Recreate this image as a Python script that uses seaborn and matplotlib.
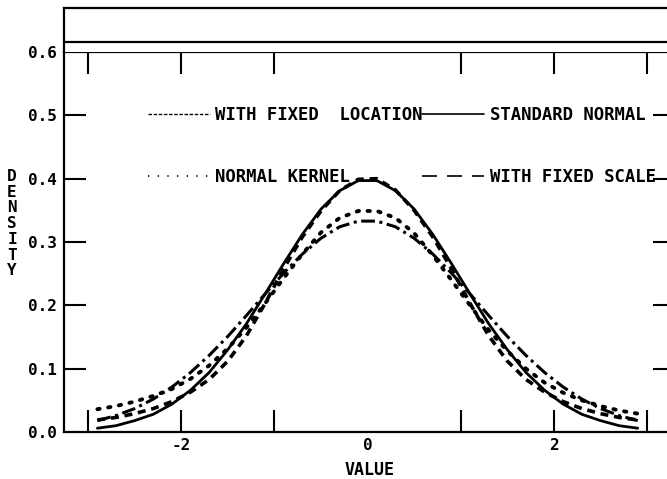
"""Density estimates compared with the standard normal (plotter-style figure)."""

import matplotlib

matplotlib.use("Agg")
import matplotlib.pyplot as plt
from matplotlib.lines import Line2D
import seaborn as sns

# ---- data ----------------------------------------------------------------- #
value = [-2.9, -2.7, -2.5, -2.3, -2.1, -1.9, -1.7, -1.5, -1.3, -1.1,
         -0.9, -0.7, -0.5, -0.3, -0.1, 0.1, 0.3, 0.5, 0.7, 0.9,
         1.1, 1.3, 1.5, 1.7, 1.9, 2.1, 2.3, 2.5, 2.7, 2.9]

standard_normal = [0.006, 0.010, 0.018, 0.028, 0.044, 0.066, 0.094, 0.130,
                   0.171, 0.218, 0.266, 0.312, 0.352, 0.381, 0.397, 0.397,
                   0.381, 0.352, 0.312, 0.266, 0.218, 0.171, 0.130, 0.094,
                   0.066, 0.044, 0.028, 0.018, 0.010, 0.006]

fixed_location = [0.018, 0.026, 0.037, 0.052, 0.071, 0.094, 0.121, 0.151,
                  0.184, 0.218, 0.251, 0.281, 0.306, 0.324, 0.333, 0.333,
                  0.324, 0.306, 0.281, 0.251, 0.218, 0.184, 0.151, 0.121,
                  0.094, 0.071, 0.052, 0.037, 0.026, 0.018]

normal_kernel = [0.036, 0.041, 0.048, 0.057, 0.068, 0.084, 0.105, 0.132,
                 0.165, 0.203, 0.243, 0.281, 0.315, 0.338, 0.349, 0.349,
                 0.338, 0.314, 0.279, 0.240, 0.200, 0.161, 0.128, 0.100,
                 0.078, 0.062, 0.050, 0.041, 0.034, 0.029]

fixed_scale = [0.019, 0.023, 0.029, 0.037, 0.048, 0.063, 0.083, 0.112,
               0.152, 0.203, 0.258, 0.308, 0.349, 0.381, 0.399, 0.400,
               0.382, 0.350, 0.308, 0.258, 0.203, 0.152, 0.112, 0.083,
               0.063, 0.048, 0.037, 0.029, 0.023, 0.019]

x_ticks = [-3, -2, -1, 0, 1, 2, 3]
x_tick_labels = ["", "-2", "", "0", "", "2", ""]
y_ticks = [0.0, 0.1, 0.2, 0.3, 0.4, 0.5, 0.6]

# ---- styling ---------------------------------------------------------------- #
sns.set_theme(style="white")
plt.rcParams["font.family"] = ["DejaVu Sans Mono", "DejaVu Sans"]
plt.rcParams["font.weight"] = "bold"
plt.rcParams["text.color"] = "black"
plt.rcParams["axes.labelcolor"] = "black"

FONT = dict(family="DejaVu Sans Mono", weight="bold", color="black")

fig = plt.figure(figsize=(6.67, 4.79), dpi=100)
# right spine sits just past the picture edge, as in the original scan
ax = fig.add_axes([0.0960, 0.0981, 0.916, 0.7933])
top = fig.add_axes([0.0960, 0.8914, 0.916, 0.0919])

curves = [
    (standard_normal, dict(linestyle="-", linewidth=2.0)),
    (fixed_scale, dict(linestyle=(0, (2.2, 1.6)), linewidth=2.6)),
    (fixed_location, dict(linestyle=(0, (4.5, 1.5, 1.0, 1.5)), linewidth=2.2)),
    (normal_kernel, dict(linestyle=(0, (0.6, 2.2)), linewidth=2.8,
                         dash_capstyle="round")),
]
for vals, style in curves:
    sns.lineplot(x=value, y=vals, ax=ax, color="black", **style)

ax.set_xlim(-3.258, 3.30)
ax.set_ylim(0, 0.6)
ax.set_xticks(x_ticks)
ax.set_xticklabels(x_tick_labels)
ax.set_yticks(y_ticks)
ax.set_yticklabels([f"{t:.1f}" for t in y_ticks])
ax.tick_params(axis="both", direction="in", length=16, width=1.5,
               color="black", bottom=True, left=True, top=True, right=True,
               labelsize=11.5, labelcolor="black")
ax.tick_params(axis="x", pad=4)
ax.tick_params(axis="y", pad=5)
for t in ax.xaxis.get_major_ticks():
    if t.get_loc() == 0:
        t.tick1line.set_visible(False)
        t.tick2line.set_visible(False)
for t in ax.yaxis.get_major_ticks():
    if t.get_loc() in (0.0, 0.6):
        t.tick1line.set_visible(False)
        t.tick2line.set_visible(False)
for lab in ax.get_xticklabels() + ax.get_yticklabels():
    lab.set_fontfamily("DejaVu Sans Mono")
    lab.set_fontweight("bold")
for s in ax.spines.values():
    s.set_color("black")
    s.set_linewidth(1.6)

ax.set_xlabel("VALUE", fontsize=12, labelpad=6, **FONT)
ax.set_ylabel("")
fig.text(0.018, 0.533, "D\nE\nN\nS\nI\nT\nY", ha="center", va="center",
         fontsize=11.5, linespacing=1.06, **FONT)

# box above the plotting area
top.set_xlim(ax.get_xlim())
top.set_xticks([])
top.set_yticks([])
top.axhline(0.227, color="black", linewidth=1.6)
for s in top.spines.values():
    s.set_color("black")
    s.set_linewidth(1.6)
top.spines["bottom"].set_visible(False)

# legend with thin sample lines
handles = [
    Line2D([], [], color="black", lw=1.0, linestyle=(0, (2.5, 1.2))),
    Line2D([], [], color="black", lw=1.2, linestyle=(0, (0.8, 5))),
    Line2D([], [], color="black", lw=1.2, linestyle="-"),
    Line2D([], [], color="black", lw=1.2, linestyle=(0, (9, 6))),
]
labels = ["WITH FIXED  LOCATION", "NORMAL KERNEL",
          "STANDARD NORMAL", "WITH FIXED SCALE"]
leg = ax.legend(handles, labels, ncol=2, frameon=False, loc="upper left",
                bbox_to_anchor=(0.137, 0.857), handlelength=3.6,
                handletextpad=0.3, labelspacing=2.55, columnspacing=0.0,
                borderpad=0, borderaxespad=0,
                prop=dict(family="DejaVu Sans Mono", weight="bold", size=12.4))
for txt in leg.get_texts():
    txt.set_color("black")

fig.savefig("out.png", dpi=100)
